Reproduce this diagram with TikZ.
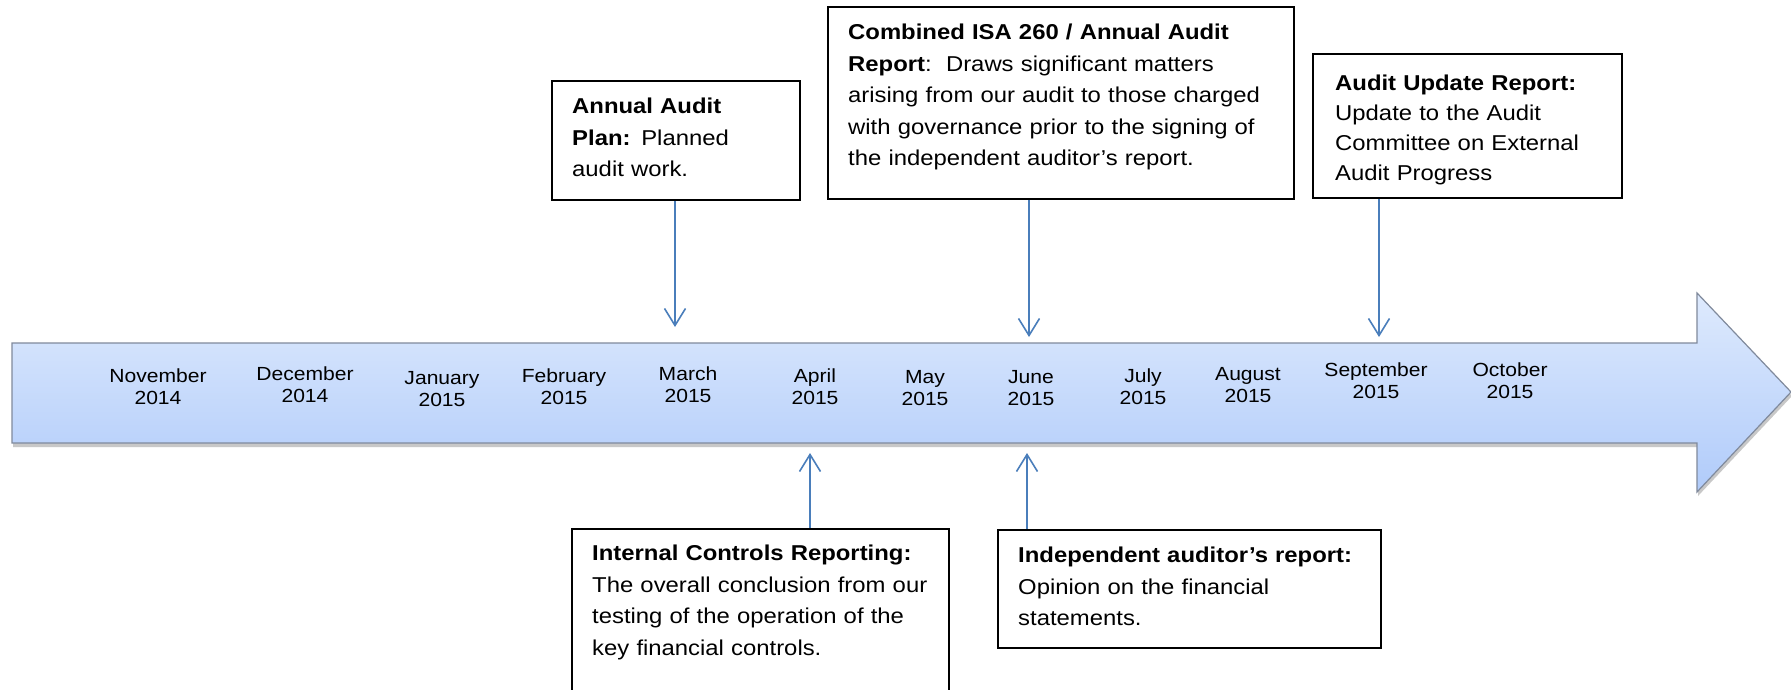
\documentclass[tikz,border=0pt]{standalone}
\usepackage{fontspec}
\setmainfont[FakeStretch=1.11]{Liberation Sans}
\usetikzlibrary{arrows.meta,shadows}
\definecolor{connblue}{RGB}{74,126,187}
\definecolor{tltop}{RGB}{222,234,253}
\definecolor{tlbot}{RGB}{176,203,250}
\definecolor{tlborder}{RGB}{128,138,156}
\begin{document}
\begin{tikzpicture}[x=1pt,y=-1pt,
  box/.style={draw=black,line width=1.8pt,rectangle,inner sep=0pt,anchor=north west},
  boxtext/.style={anchor=base west,inner sep=0pt,align=left,text width=420pt},
  month/.style={anchor=base,inner sep=0pt,align=center,text width=140pt,font=\fontsize{19}{22}\selectfont},
  link/.style={draw=connblue,line width=1.6pt,-{Straight Barb[length=17pt,width=21pt]}}
]
\useasboundingbox (0,0) rectangle (1791,689);
\clip (0,0) rectangle (1791,689);
\fill[white] (0,0) rectangle (1791,689);

% timeline arrow
\path[draw=tlborder,line width=1.2pt,top color=tltop,bottom color=tlbot,
  drop shadow={shadow xshift=1pt,shadow yshift=-4pt,opacity=0.3,fill=black!70}]
  (12,343) -- (1697,343) -- (1697,293) -- (1791,392) -- (1697,492) -- (1697,443) -- (12,443) -- cycle;

% month labels
\node[month] (m1) at (158,382) {November\\2014};
\node[month] (m2) at (305,380) {December\\2014};
\node[month] (m3) at (442,384) {January\\2015};
\node[month] (m4) at (564,382) {February\\2015};
\node[month] (m5) at (688,380) {March\\2015};
\node[month] (m6) at (815,382) {April\\2015};
\node[month] (m7) at (925,383) {May\\2015};
\node[month] (m8) at (1031,383) {June\\2015};
\node[month] (m9) at (1143,382) {July\\2015};
\node[month] (m10) at (1248,380) {August\\2015};
\node[month] (m11) at (1376,376) {September\\2015};
\node[month] (m12) at (1510,376) {October\\2015};

% boxes
\node[box,minimum width=248pt,minimum height=119pt] (plan) at (551,80) {};
\node[boxtext,font=\fontsize{21.5}{31.5}\selectfont] (planT) at (572,113.7)
  {\textbf{Annual Audit}\\\textbf{Plan:} Planned\\audit work.};

\node[box,minimum width=466pt,minimum height=192pt] (comb) at (827,6) {};
\node[boxtext,font=\fontsize{21.5}{31.5}\selectfont] (combT) at (848,39.7)
  {\textbf{Combined ISA 260 / Annual Audit}\\\textbf{Report}:\ \ Draws significant matters\\arising from our audit to those charged\\with governance prior to the signing of\\the independent auditor’s report.};

\node[box,minimum width=309pt,minimum height=144pt] (upd) at (1312,53) {};
\node[boxtext,font=\fontsize{21.5}{30}\selectfont] (updT) at (1335,90.7)
  {\textbf{Audit Update Report:}\\Update to the Audit\\Committee on External\\Audit Progress};

\node[box,minimum width=377pt,minimum height=180pt] (intl) at (571,528) {};
\node[boxtext,font=\fontsize{21.5}{31.5}\selectfont] (intlT) at (592,560.7)
  {\textbf{Internal Controls Reporting:}\\The overall conclusion from our\\testing of the operation of the\\key financial controls.};

\node[box,minimum width=383pt,minimum height=118pt] (indep) at (997,529) {};
\node[boxtext,font=\fontsize{21.5}{31.5}\selectfont] (indepT) at (1018,562.7)
  {\textbf{Independent auditor’s report:}\\Opinion on the financial\\statements.};

% connectors
\coordinate (marT) at (675,327);
\coordinate (junT) at (1029,337);
\coordinate (sepT) at (1379,337);
\coordinate (aprB) at (810,453);
\coordinate (junB) at (1027,453);
\draw[link] (plan.south -| marT) -- (marT);
\draw[link] (comb.south -| junT) -- (junT);
\draw[link] (upd.south -| sepT) -- (sepT);
\draw[link] (intl.north -| aprB) -- (aprB);
\draw[link] (indep.north -| junB) -- (junB);
\end{tikzpicture}
\end{document}
